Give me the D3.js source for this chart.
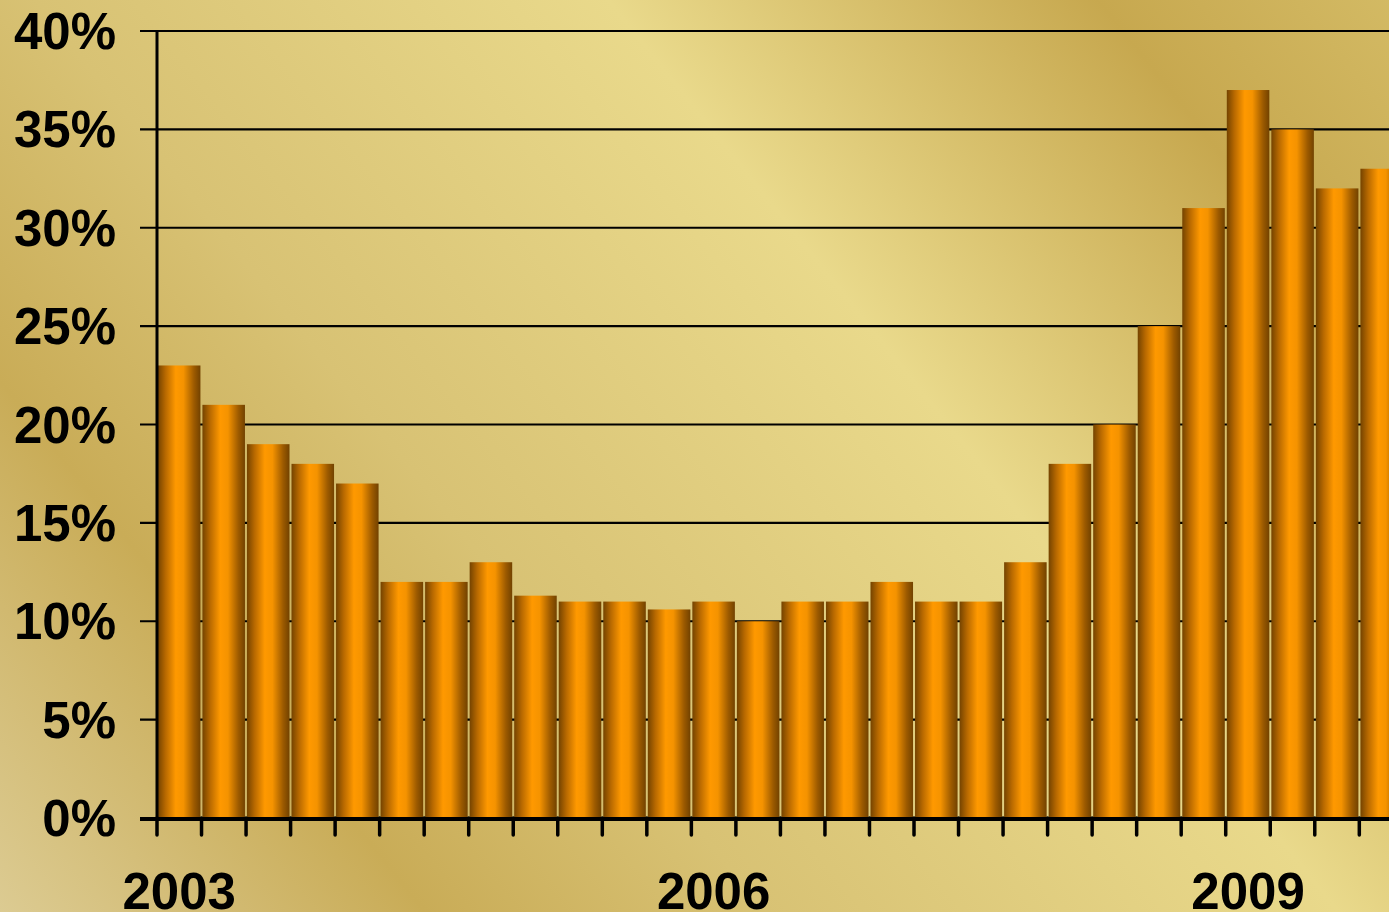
<!DOCTYPE html>
<html>
<head>
<meta charset="utf-8">
<script src="https://cdn.jsdelivr.net/npm/d3@7"></script>
<style>
  html, body { margin: 0; padding: 0; overflow: hidden; }
  svg { display: block; font-family: "Liberation Sans", Arial, sans-serif; }
</style>
</head>
<body>
<svg id="chart"></svg>
<script>
// quarterly share, 2003 Q1 .. 2009 Q4
const quarters = [
  '2003Q1','2003Q2','2003Q3','2003Q4',
  '2004Q1','2004Q2','2004Q3','2004Q4',
  '2005Q1','2005Q2','2005Q3','2005Q4',
  '2006Q1','2006Q2','2006Q3','2006Q4',
  '2007Q1','2007Q2','2007Q3','2007Q4',
  '2008Q1','2008Q2','2008Q3','2008Q4',
  '2009Q1','2009Q2','2009Q3','2009Q4'
];
const values = [
  23, 21, 19, 18,
  17, 12, 12, 13,
  11.3, 11, 11, 10.6,
  11, 10, 11, 11,
  12, 11, 11, 13,
  18, 20, 25, 31,
  37, 35, 32, 33
];
const yTicks = [0, 5, 10, 15, 20, 25, 30, 35, 40];
const yearLabels = ['2003Q1', '2006Q1', '2009Q1'];

const width = 1389, height = 912;
const margin = { top: 31, left: 157, bottom: 94 };
const step = 44.53;

const svg = d3.select('#chart')
  .attr('width', width)
  .attr('height', height);

const defs = svg.append('defs');

// gold background, diagonal bands
const bg = defs.append('linearGradient')
  .attr('id', 'bg')
  .attr('gradientUnits', 'userSpaceOnUse')
  .attr('x1', 0).attr('y1', 912)
  .attr('x2', 1295).attr('y2', -125);
[
  [0, '#dccb92'], [0.2, '#c9ac57'], [0.36, '#d8c274'],
  [0.63, '#e9d98b'], [0.86, '#c7a84f'], [1, '#d3ba64']
].forEach(([o, c]) => bg.append('stop').attr('offset', o).attr('stop-color', c));

// cylinder-ish bar shading
const barGrad = defs.append('linearGradient')
  .attr('id', 'bar')
  .attr('x1', 0).attr('y1', 0).attr('x2', 1).attr('y2', 0);
[
  [0, '#744300'], [0.18, '#b86900'], [0.42, '#ff9900'],
  [0.6, '#f59300'], [0.85, '#9c5a00'], [1, '#724200']
].forEach(([o, c]) => barGrad.append('stop').attr('offset', o).attr('stop-color', c));

svg.append('rect')
  .attr('width', width)
  .attr('height', height)
  .attr('fill', 'url(#bg)');

const x = d3.scaleBand()
  .domain(quarters)
  .range([margin.left, margin.left + step * quarters.length])
  .paddingInner(0.045)
  .paddingOuter(0.02);

const y = d3.scaleLinear()
  .domain([0, 40])
  .range([height - margin.bottom, margin.top]);

// gridlines
svg.append('g')
  .selectAll('line')
  .data(yTicks.filter(d => d > 0))
  .enter()
  .append('line')
  .attr('x1', margin.left - 17)
  .attr('x2', width)
  .attr('y1', d => y(d))
  .attr('y2', d => y(d))
  .attr('stroke', '#000')
  .attr('stroke-width', 2.2);

// bars
svg.append('g')
  .selectAll('rect')
  .data(values)
  .enter()
  .append('rect')
  .attr('x', (d, i) => x(quarters[i]))
  .attr('y', d => y(d))
  .attr('width', x.bandwidth())
  .attr('height', d => y(0) - y(d))
  .attr('fill', 'url(#bar)');

// y axis line
svg.append('line')
  .attr('x1', margin.left).attr('x2', margin.left)
  .attr('y1', y(40)).attr('y2', y(0))
  .attr('stroke', '#000')
  .attr('stroke-width', 3);

// x axis line
svg.append('line')
  .attr('x1', margin.left - 17).attr('x2', width)
  .attr('y1', y(0) + 1).attr('y2', y(0) + 1)
  .attr('stroke', '#000')
  .attr('stroke-width', 4);

// x ticks at category boundaries
svg.append('g')
  .selectAll('line')
  .data(quarters)
  .enter()
  .append('line')
  .attr('x1', (d, i) => margin.left + i * step)
  .attr('x2', (d, i) => margin.left + i * step)
  .attr('y1', y(0))
  .attr('y2', y(0) + 17)
  .attr('stroke', '#000')
  .attr('stroke-width', 3.5)
  .attr('stroke-linecap', 'round');

// y labels
svg.append('g')
  .selectAll('text')
  .data(yTicks)
  .enter()
  .append('text')
  .attr('x', 116)
  .attr('y', d => y(d) + 18)
  .attr('text-anchor', 'end')
  .style('font-size', '51px')
  .style('font-weight', 'bold')
  .style('fill', '#000')
  .text(d => d + '%');

// year labels
svg.append('g')
  .selectAll('text')
  .data(yearLabels)
  .enter()
  .append('text')
  .attr('x', d => x(d) + x.bandwidth() / 2)
  .attr('y', 909)
  .attr('text-anchor', 'middle')
  .style('font-size', '51px')
  .style('font-weight', 'bold')
  .style('fill', '#000')
  .text(d => d.slice(0, 4));
</script>
</body>
</html>
